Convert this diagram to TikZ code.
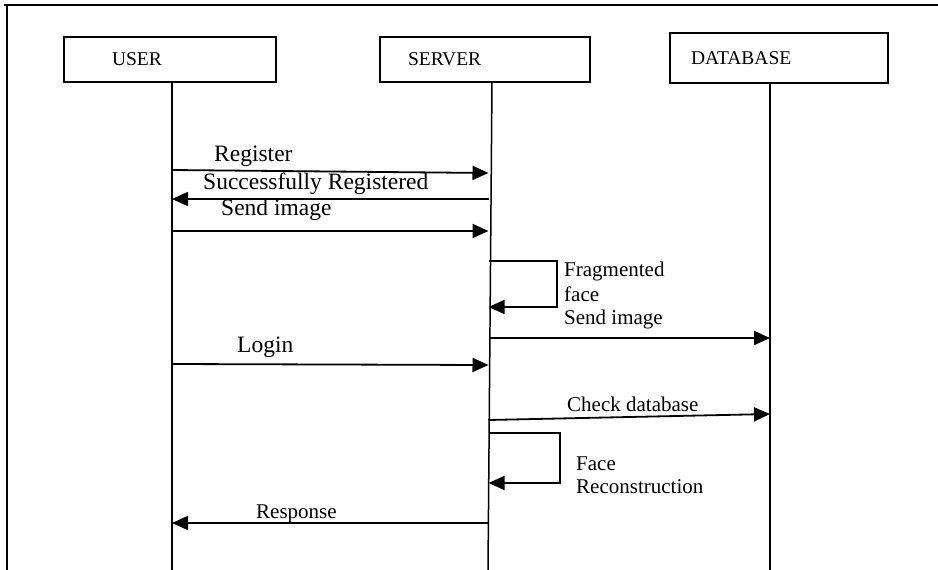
\documentclass[tikz,border=0pt]{standalone}
\usepackage{fontspec}
\setmainfont{Liberation Serif}
\usetikzlibrary{arrows.meta}
\tikzset{
  big/.style={font=\fontsize{23.5}{27}\selectfont},
  sm/.style={font=\fontsize{21}{24}\selectfont},
  hdr/.style={font=\fontsize{19.5}{22}\selectfont},
}
\begin{document}
\begin{tikzpicture}[x=1pt, y=-1pt,
  actor/.style={draw, line width=1.5pt, minimum height=45pt, inner ysep=0pt,
                align=left, hdr},
  life/.style={line width=1.5pt},
  msg/.style={line width=1.8pt, -{Triangle[length=16pt, width=14pt]}},
  lbl/.style={anchor=base west, inner sep=0pt}]
  \useasboundingbox (0,0) rectangle (938,570);
  % frame
  \draw[line width=2pt] (4,5) -- (938,5);
  \draw[line width=2pt] (7,4) -- (7,570);
  % actors
  \node[actor, text width=116pt, inner xsep=48pt] (user)   at (170,59.5) {USER};
  \node[actor, text width=154pt, inner xsep=28pt] (server) at (485,59.5) {SERVER};
  \node[actor, text width=176pt, inner xsep=21pt, minimum height=50pt] (db) at (779,58) {DATABASE};
  % lifelines
  \coordinate (uEnd) at (172,570);
  \coordinate (sEnd) at (488.5,570);
  \coordinate (dEnd) at (770,570);
  \draw[life] (user.south -| uEnd) -- (uEnd);
  \draw[life] ([xshift=7pt]server.south) -- ([xshift=-0.5pt]sEnd);
  \draw[life] (db.south -| dEnd) -- (dEnd);
  % registration
  \node[lbl, big] (register) at (214,161) {Register};
  \draw[msg] (uEnd |- 0,170) -- (sEnd |- 0,173);
  \node[lbl, big] (okreg) at (203,189) {Successfully Registered};
  \draw[msg] (sEnd |- 0,199) -- (uEnd |- 0,199);
  \node[lbl, big] (sendimg) at (221,215) {Send image};
  \draw[msg] (uEnd |- 0,231) -- (sEnd |- 0,231);
  % fragmented face
  \coordinate (fragCorner) at (557,284);
  \draw[msg] (sEnd |- 0,261) -| (fragCorner) |- (sEnd |- 0,307);
  \node[lbl, sm] (fragA) at (564,276) {Fragmented};
  \node[lbl, sm] (fragB) at (564,301) {face};
  \node[lbl, sm] (storeimg) at (564,324) {Send image};
  \draw[msg] (sEnd |- 0,338) -- (dEnd |- 0,338);
  % login
  \node[lbl, big] (login) at (237,352) {Login};
  \draw[msg] (uEnd |- 0,364) -- (sEnd |- 0,365);
  \node[lbl, sm] (check) at (567,411) {Check database};
  \draw[msg] (sEnd |- 0,420) -- (dEnd |- 0,414);
  % reconstruction
  \coordinate (recCorner) at (560,458);
  \draw[msg] (sEnd |- 0,433) -| (recCorner) |- (sEnd |- 0,483);
  \node[lbl, sm] (recA) at (576,470) {Face};
  \node[lbl, sm] (recB) at (576,493) {Reconstruction};
  \node[lbl, sm] (resp) at (256,518) {Response};
  \draw[msg] (sEnd |- 0,523) -- (uEnd |- 0,523);
\end{tikzpicture}
\end{document}
